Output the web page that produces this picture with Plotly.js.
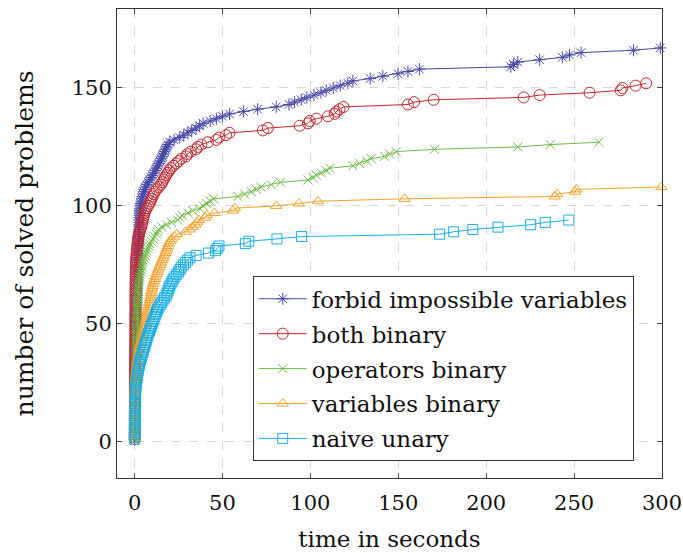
<!DOCTYPE html>
<html>
<head>
<meta charset="utf-8">
<script src="https://cdn.plot.ly/plotly-3.0.1.min.js"></script>
<style>html,body{margin:0;padding:0;background:#fff;}#chart{width:683px;height:553px;}</style>
</head>
<body>
<div id="chart"></div>
<script>
var forbidTime = [0.05,0.06,0.07,0.08,0.09,0.1,0.1,0.11,0.12,0.13,
0.14,0.15,0.16,0.17,0.18,0.2,0.21,0.22,0.24,0.25,
0.27,0.28,0.3,0.31,0.33,0.35,0.36,0.38,0.4,0.42,
0.44,0.46,0.48,0.5,0.52,0.54,0.56,0.58,0.6,0.62,
0.64,0.66,0.68,0.7,0.72,0.74,0.76,0.78,0.8,0.82,
0.85,0.88,0.9,0.93,0.96,1.0,1.03,1.06,1.1,1.13,
1.17,1.2,1.24,1.28,1.32,1.36,1.4,1.45,1.5,1.55,
1.6,1.65,1.7,1.75,1.8,1.85,1.9,1.95,2.0,2.05,
2.1,2.15,2.2,2.25,2.3,2.35,2.4,2.45,2.5,2.55,
2.6,2.65,2.7,2.75,2.8,2.85,2.9,3.0,3.1,3.3,
3.6,3.9,4.2,4.5,4.8,5.2,5.7,6.3,7.0,7.8,
8.6,9.4,10.2,11.0,11.8,12.5,13.2,13.8,14.5,15.2,
15.8,16.4,17.0,17.6,18.2,19.0,20.0,22.5,25.7,28.0,
30.3,32.5,35.0,37.0,39.0,43.0,46.5,50.0,54.0,62.0,
70.0,80.6,87.8,91.0,94.8,98.0,102.0,106.0,109.0,113.0,
117.0,121.3,124.2,134.0,141.2,149.8,155.5,162.0,214.0,215.5,
218.0,230.4,243.3,247.4,254.0,283.8,299.0];
var forbidSolved = [1,2,3,4,5,6,7,8,9,10,11,12,13,14,15,16,17,18,19,20,
21,22,23,24,25,26,27,28,29,30,31,32,33,34,35,36,37,38,39,40,
41,42,43,44,45,46,47,48,49,50,51,52,53,54,55,56,57,58,59,60,
61,62,63,64,65,66,67,68,69,70,71,72,73,74,75,76,77,78,79,80,
81,82,83,84,85,86,87,88,89,90,91,92,93,94,95,96,97,98,99,100,
101,102,103,104,105,106,107,108,109,110,111,112,113,114,115,116,117,118,119,120,
121,122,123,124,125,126,127,128,129,130,131,132,133,134,135,136,137,138,139,140,
141,142,143,144,145,146,147,148,149,150,151,152,153,154,155,156,157,158,159,160,
161,162,163,164,165,166,167];

var bothTime = [0.05,0.06,0.07,0.08,0.09,0.1,0.1,0.11,0.12,0.12,
0.13,0.14,0.15,0.16,0.17,0.18,0.19,0.2,0.2,0.21,
0.22,0.23,0.24,0.25,0.26,0.27,0.28,0.29,0.3,0.31,
0.32,0.33,0.34,0.35,0.36,0.37,0.38,0.39,0.4,0.41,
0.42,0.42,0.43,0.43,0.44,0.44,0.45,0.45,0.46,0.46,
0.47,0.47,0.48,0.48,0.49,0.49,0.5,0.5,0.5,0.51,
0.52,0.53,0.54,0.55,0.56,0.57,0.58,0.59,0.6,0.62,
0.64,0.66,0.7,0.74,0.8,0.86,0.92,1.0,1.1,1.2,
1.3,1.4,1.55,1.7,1.85,2.0,2.2,2.5,2.9,3.3,
3.8,4.1,4.4,4.7,5.0,5.3,5.7,6.2,6.9,7.7,
8.5,9.1,9.7,10.3,10.9,11.5,12.6,13.8,15.0,15.8,
16.5,17.2,18.0,18.9,19.8,20.6,22.1,23.7,25.1,26.6,
29.4,30.0,32.0,35.0,36.0,38.0,41.7,46.5,48.0,52.0,
54.0,73.0,75.8,93.9,98.6,99.6,103.4,110.0,113.8,114.7,
116.6,118.9,155.5,159.0,170.1,221.3,230.4,258.8,276.5,277.5,
285.0,291.0];
var bothSolved = [1,2,3,4,5,6,7,8,9,10,11,12,13,14,15,16,17,18,19,20,
21,22,23,24,25,26,27,28,29,30,31,32,33,34,35,36,37,38,39,40,
41,42,43,44,45,46,47,48,49,50,51,52,53,54,55,56,57,58,59,60,
61,62,63,64,65,66,67,68,69,70,71,72,73,74,75,76,77,78,79,80,
81,82,83,84,85,86,87,88,89,90,91,92,93,94,95,96,97,98,99,100,
101,102,103,104,105,106,107,108,109,110,111,112,113,114,115,116,117,118,119,120,
121,122,123,124,125,126,127,128,129,130,131,132,133,134,135,136,137,138,139,140,
141,142,143,144,145,146,147,148,149,150,151,152];

var operatorsTime = [0.05,0.06,0.07,0.08,0.09,0.1,0.11,0.12,0.13,0.14,
0.15,0.16,0.17,0.18,0.19,0.2,0.21,0.22,0.23,0.24,
0.26,0.28,0.3,0.33,0.36,0.4,0.44,0.48,0.52,0.56,
0.6,0.64,0.68,0.72,0.76,0.8,0.84,0.88,0.92,0.96,
1.0,1.03,1.06,1.09,1.12,1.15,1.18,1.21,1.24,1.27,
1.3,1.33,1.36,1.4,1.44,1.48,1.52,1.56,1.6,1.65,
1.7,1.8,1.9,2.0,2.1,2.2,2.35,2.5,2.7,3.0,
3.3,3.6,3.9,4.2,4.5,4.7,4.9,5.4,5.9,6.5,
7.0,7.6,8.2,8.7,9.5,10.4,11.4,12.5,13.0,13.6,
15.5,18.0,21.0,24.5,25.8,27.0,30.3,33.0,37.0,39.0,
41.0,43.0,45.0,58.8,62.6,66.4,69.2,72.0,77.8,83.0,
98.6,101.5,103.4,106.2,109.0,111.0,124.2,128.0,132.0,134.6,
142.2,145.0,148.8,170.6,218.0,236.4,264.1];
var operatorsSolved = [1,2,3,4,5,6,7,8,9,10,11,12,13,14,15,16,17,18,19,20,
21,22,23,24,25,26,27,28,29,30,31,32,33,34,35,36,37,38,39,40,
41,42,43,44,45,46,47,48,49,50,51,52,53,54,55,56,57,58,59,60,
61,62,63,64,65,66,67,68,69,70,71,72,73,74,75,76,77,78,79,80,
81,82,83,84,85,86,87,88,89,90,91,92,93,94,95,96,97,98,99,100,
101,102,103,104,105,106,107,108,109,110,111,112,113,114,115,116,117,118,119,120,
121,122,123,124,125,126,127];

var variablesTime = [0.05,0.06,0.07,0.08,0.09,0.1,0.11,0.12,0.13,0.14,
0.15,0.16,0.17,0.18,0.19,0.2,0.22,0.24,0.26,0.28,
0.3,0.35,0.4,0.45,0.5,0.6,0.7,0.85,1.0,1.2,
1.35,1.5,1.7,1.9,2.1,2.3,2.5,2.7,2.9,3.1,
3.4,3.7,4.0,4.3,4.6,4.9,5.2,5.5,5.8,6.1,
6.5,6.8,7.0,7.2,7.4,7.7,7.9,8.2,8.4,8.7,
9.0,9.3,9.5,9.8,10.0,10.3,10.6,11.1,11.6,12.0,
12.5,13.0,13.5,14.1,14.6,15.2,15.7,16.3,16.9,17.5,
18.0,18.5,19.0,19.5,20.3,21.0,22.5,24.0,29.0,31.3,
33.0,34.5,35.5,36.5,40.0,41.0,45.5,56.0,57.0,80.6,
93.4,104.3,153.6,239.0,240.3,250.5,251.3,299.6];
var variablesSolved = [1,2,3,4,5,6,7,8,9,10,11,12,13,14,15,16,17,18,19,20,
21,22,23,24,25,26,27,28,29,30,31,32,33,34,35,36,37,38,39,40,
41,42,43,44,45,46,47,48,49,50,51,52,53,54,55,56,57,58,59,60,
61,62,63,64,65,66,67,68,69,70,71,72,73,74,75,76,77,78,79,80,
81,82,83,84,85,86,87,88,89,90,91,92,93,94,95,96,97,98,99,100,
101,102,103,104,105,106,107,108];

var naiveTime = [0.1,0.12,0.14,0.16,0.18,0.2,0.22,0.24,0.26,0.28,
0.3,0.32,0.34,0.36,0.38,0.4,0.42,0.44,0.46,0.48,
0.55,0.65,0.75,0.85,1.0,1.2,1.4,1.6,1.8,2.0,
2.3,2.5,2.8,3.1,3.5,3.9,4.3,4.7,5.1,5.5,
5.9,6.3,6.7,7.1,7.5,8.0,8.5,9.0,9.5,10.0,
10.5,11.0,11.5,12.0,12.5,13.0,13.8,14.6,15.4,16.2,
17.0,18.0,18.5,19.0,19.5,20.0,20.7,21.4,22.0,23.0,
24.0,25.0,25.8,26.5,27.8,29.0,30.2,31.5,35.0,42.0,
46.0,47.0,48.0,63.0,65.0,81.0,95.0,173.5,181.5,192.4,
206.7,225.3,233.6,247.0];
var naiveSolved = [1,2,3,4,5,6,7,8,9,10,11,12,13,14,15,16,17,18,19,20,
21,22,23,24,25,26,27,28,29,30,31,32,33,34,35,36,37,38,39,40,
41,42,43,44,45,46,47,48,49,50,51,52,53,54,55,56,57,58,59,60,
61,62,63,64,65,66,67,68,69,70,71,72,73,74,75,76,77,78,79,80,
81,82,83,84,85,86,87,88,89,90,91,92,93,94];

var seriesNames = ["forbid impossible variables","both binary","operators binary","variables binary","naive unary"];
var xTicks = [0,50,100,150,200,250,300];
var yTicks = [0,50,100,150];

var FONT = "DejaVu Serif";
function mk(x, y, name, color, symbol, size, group) {
  return {
    x: x, y: y, name: name, type: "scatter", mode: "lines+markers",
    legendgroup: group, cliponaxis: false,
    line: {color: color, width: 1},
    marker: {symbol: symbol, size: size, color: color, line: {color: color, width: 1}}
  };
}
var data = [
  mk(forbidTime, forbidSolved, seriesNames[0], "#4848a8", "asterisk-open", 10, "g1"),
  mk(bothTime, bothSolved, seriesNames[1], "#c4262e", "circle-open", 11, "g2"),
  mk(operatorsTime, operatorsSolved, seriesNames[2], "#6cbd45", "x-thin-open", 9, "g3"),
  mk(variablesTime, variablesSolved, seriesNames[3], "#f7a02c", "triangle-up-open", 10, "g4"),
  mk(naiveTime, naiveSolved, seriesNames[4], "#18aee6", "square-open", 10, "g5")
];
function axisBase() {
  return {
    showline: true, linecolor: "#333", linewidth: 1, mirror: "ticks",
    ticks: "inside", ticklen: 5, tickcolor: "#444", tickwidth: 1,
    showgrid: true, gridcolor: "#d6d6d6", gridwidth: 1, griddash: "dash",
    zeroline: false,
    tickfont: {family: FONT, size: 21, color: "#111"}
  };
}
var xa = axisBase();
xa.range = [-10, 300];
xa.tickvals = xTicks;
xa.ticktext = xTicks.map(String);
xa.ticklabelstandoff = 6;
xa.title = {text: "time in seconds", font: {family: FONT, size: 23, color: "#111"}, standoff: 16};
var ya = axisBase();
ya.range = [-15.4, 183.5];
ya.tickvals = yTicks;
ya.ticktext = yTicks.map(String);
ya.title = {text: "number of solved problems", font: {family: FONT, size: 25, color: "#111"}, standoff: 30};

var layout = {
  width: 683, height: 553,
  margin: {l: 117, r: 21, t: 9, b: 75},
  paper_bgcolor: "#fff", plot_bgcolor: "#fff",
  font: {family: FONT, color: "#111", size: 21},
  showlegend: true,
  xaxis: xa,
  yaxis: ya,
  legend: {
    x: 0.249, y: 0.43, xanchor: "left", yanchor: "top",
    bgcolor: "#fff", bordercolor: "#333", borderwidth: 1,
    font: {family: FONT, size: 23, color: "#111"},
    itemwidth: 48, tracegroupgap: 2, traceorder: "grouped"
  }
};
Plotly.newPlot("chart", data, layout, {displayModeBar: false, staticPlot: true});
</script>
</body>
</html>
